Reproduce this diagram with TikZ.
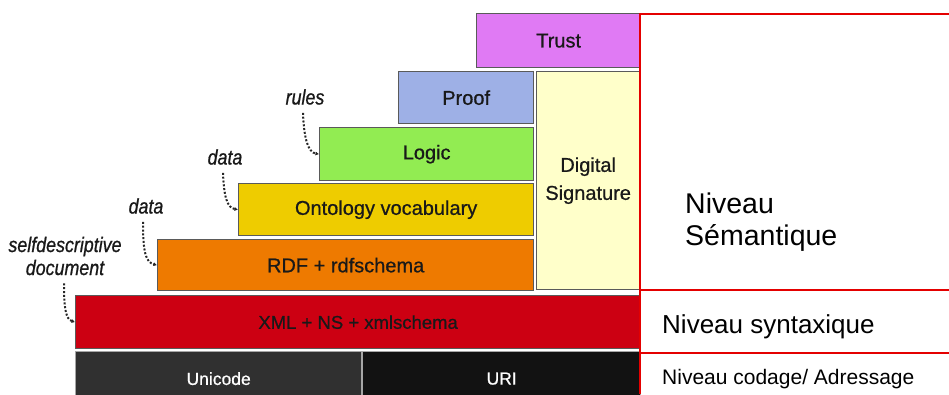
\documentclass[tikz,border=0pt]{standalone}
\usepackage{fontspec}
\setmainfont{Liberation Sans}
\newfontfamily\boxfont[FakeBold=0.7]{Liberation Sans}
\newfontfamily\lblfont[FakeStretch=0.85,FakeBold=0.8]{Liberation Sans}
\usetikzlibrary{arrows.meta,calc}

\definecolor{trustc}{RGB}{224,122,244}
\definecolor{proofc}{RGB}{158,176,230}
\definecolor{logicc}{RGB}{146,236,82}
\definecolor{ontoc}{RGB}{238,204,0}
\definecolor{rdfc}{RGB}{238,122,0}
\definecolor{xmlc}{RGB}{204,0,18}
\definecolor{sigc}{RGB}{255,255,202}
\definecolor{unic}{RGB}{48,48,48}
\definecolor{uric}{RGB}{18,18,18}
\definecolor{framec}{RGB}{228,0,0}
\definecolor{edgec}{RGB}{90,90,90}

\begin{document}
\begin{tikzpicture}[x=1pt,y=-1pt,
  layer/.style={draw=edgec, line width=1.3pt, inner sep=0pt, anchor=north west,
    align=center, text=black!90, font=\boxfont\fontsize{20}{28}\selectfont},
  baselayer/.style={layer, draw=black!35, text=white, font=\boxfont\fontsize{17.5}{20}\selectfont},
  lbl/.style={inner sep=1pt, text=black!90, font=\lblfont\itshape\fontsize{21}{23}\selectfont, align=center},
  hint/.style={draw=black!85, line width=2pt, dash pattern=on 2pt off 1.8pt,
    -{Latex[length=3.5pt,width=4pt]}},
  level/.style={inner sep=0pt, anchor=base west},
  frame/.style={draw=framec, line width=1.8pt}]

\useasboundingbox (0,0) rectangle (949,394);
\clip (0,0) rectangle (949,394);

% the layer cake
\node[layer, fill=trustc, minimum width=164pt, minimum height=54pt] (trust) at (476,13) {Trust};
\node[layer, fill=proofc, minimum width=135pt, minimum height=52pt] (proof) at (398,71) {Proof};
\node[layer, fill=sigc,   minimum width=103pt, minimum height=218pt] (sig) at (536,71) {Digital\\Signature};
\node[layer, fill=logicc, minimum width=214pt, minimum height=53pt] (logic) at (319,127) {Logic};
\node[layer, fill=ontoc,  minimum width=295pt, minimum height=52pt] (onto) at (238,183) {Ontology vocabulary};
\node[layer, fill=rdfc,   minimum width=376pt, minimum height=51pt] (rdf) at (157,239) {RDF + rdfschema};
\node[layer, fill=xmlc,   minimum width=565pt, minimum height=53pt,
      font=\boxfont\fontsize{18.5}{20}\selectfont] (xml) at (75,295) {XML + NS + xmlschema};
\node[baselayer, fill=unic, minimum width=286pt, minimum height=54pt] (uni) at (75,351) {Unicode};
\node[baselayer, fill=uric, minimum width=278pt, minimum height=54pt] (uri) at (362,351) {URI};

% side notes and their pointers
\node[lbl] (rules) at (305,97) {rules};
\node[lbl] (data1) at (225,157) {data};
\node[lbl] (data2) at (146,206) {data};
\node[lbl] (selfdoc) at (65,256) {selfdescriptive\\document};

\draw[hint] ($(rules.south)+(-2,7)$) .. controls +(1,26) and +(-11,-2) .. (logic.west);
\draw[hint] ($(data1.south)+(-2,7)$) .. controls +(1,24) and +(-11,-2) .. (onto.west);
\draw[hint] ($(data2.south)+(-3,7)$) .. controls +(0,32) and +(-11,-3) .. (rdf.west);
\draw[hint] ($(selfdoc.south)+(-1,7)$) .. controls +(0,26) and +(-9,-3) .. (xml.west);

% level frame on the right
\coordinate (ftop) at (640,13);
\coordinate (fbot) at (640,394);
\coordinate (fright) at (949,14);
\coordinate (sem) at (640,290);
\coordinate (syn) at (640,353);
\draw[frame] (ftop) -- (fbot);
\draw[frame] ($(ftop)+(-0.9,1)$) -- (fright);
\draw[frame] (sem) -- (sem -| fright);
\draw[frame] (syn) -- (syn -| fright);

\node[level, font=\fontsize{28.5}{32}\selectfont] (niv1) at (685,213) {Niveau};
\node[level, font=\fontsize{28.5}{32}\selectfont] (niv2) at (685,245) {Sémantique};
\node[level, font=\fontsize{26}{30}\selectfont] (niv3) at (662,333) {Niveau syntaxique};
\node[level, font=\fontsize{21}{24}\selectfont] (niv4) at (662,384) {Niveau codage/ Adressage};

\end{tikzpicture}
\end{document}
